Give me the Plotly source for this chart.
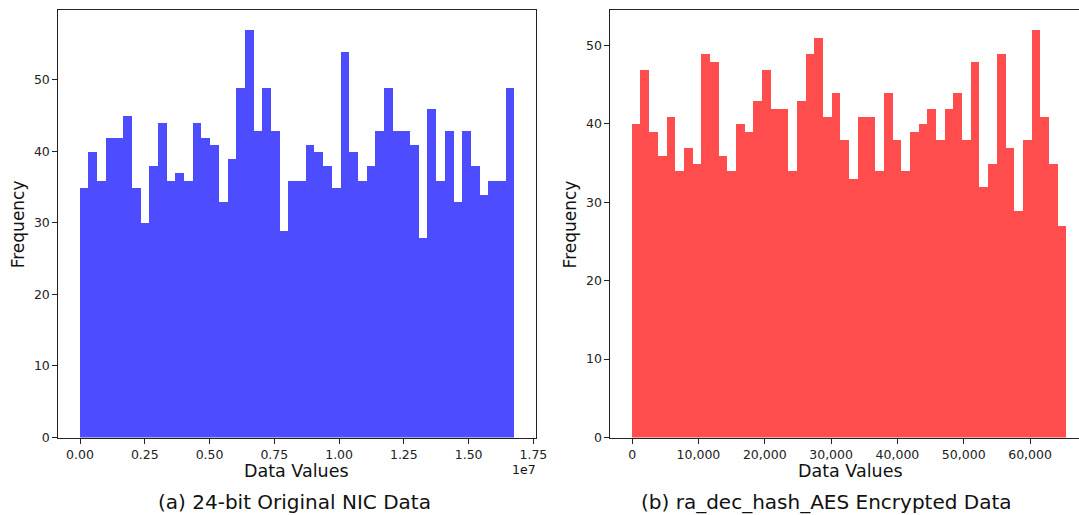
import plotly.graph_objects as go

# ---------------- data ----------------
left_counts = [35, 40, 36, 42, 42, 45, 35, 30, 38, 44,
               36, 37, 36, 44, 42, 41, 33, 39, 49, 57,
               43, 49, 43, 29, 36, 36, 41, 40, 38, 35,
               54, 40, 36, 38, 43, 49, 43, 43, 41, 28,
               46, 36, 43, 33, 43, 38, 34, 36, 36, 49]
right_counts = [40, 47, 39, 36, 41, 34, 37, 35, 49, 48,
                36, 34, 40, 39, 43, 47, 42, 42, 34, 43,
                49, 51, 41, 44, 38, 33, 41, 41, 34, 44,
                38, 34, 39, 40, 42, 38, 42, 44, 38, 48,
                32, 35, 49, 37, 29, 38, 52, 41, 35, 27]
left_min, left_max = 0, 2**24 - 1
right_min, right_max = 0, 2**16 - 1
left_tickvals = [0, 2.5e6, 5e6, 7.5e6, 1e7, 1.25e7, 1.5e7, 1.75e7]
left_ticktext = ["0.00", "0.25", "0.50", "0.75", "1.00", "1.25", "1.50", "1.75"]
right_tickvals = [0, 10000, 20000, 30000, 40000, 50000, 60000]
y_tickvals = [0, 10, 20, 30, 40, 50]
caption_a = "(a) 24-bit Original NIC Data"
caption_b = "(b) ra_dec_hash_AES Encrypted Data"

W, H = 1079, 515
FONT = "DejaVu Sans"


def bins(lo, hi, n):
    w = (hi - lo) / n
    centers = [lo + w * (i + 0.5) for i in range(n)]
    return centers, w


lc, lw = bins(left_min, left_max, len(left_counts))
rc, rw = bins(right_min, right_max, len(right_counts))

fig = go.Figure()
fig.add_trace(go.Bar(x=lc, y=left_counts, width=lw, marker=dict(color="#4D4DFF", line=dict(width=0)),
                     xaxis="x", yaxis="y", showlegend=False))
fig.add_trace(go.Bar(x=rc, y=right_counts, width=rw, marker=dict(color="#FF4D4D", line=dict(width=0)),
                     xaxis="x2", yaxis="y2", showlegend=False))


def px(x):
    return x / W


def py(y):
    return 1 - y / H


top, bottom = 9.5, 437.5
l_left, l_right = 58.3, 536.4
r_left = 610.4

lspan = left_max - left_min
l_lo = left_min - 0.05 * lspan
l_hi = left_max + 0.05 * lspan
rspan = right_max - right_min
r_lo = right_min - 0.05 * rspan
r_full_hi = right_max + 0.05 * rspan
# right axes box is cut by the figure edge: compute visible upper bound
r_axes_width = l_right - l_left
r_hi = r_lo + (r_full_hi - r_lo) * (W - r_left) / r_axes_width

axis_common = dict(showgrid=False, zeroline=False, showline=True, linecolor="#222222", linewidth=1,
                   ticks="outside", ticklen=5, tickwidth=1, tickcolor="#222222", automargin=False,
                   tickfont=dict(family=FONT, size=12.5, color="#222222"))

fig.update_layout(
    width=W, height=H,
    margin=dict(l=0, r=0, t=0, b=0, pad=0),
    paper_bgcolor="white", plot_bgcolor="white",
    bargap=0,
    font=dict(family=FONT, color="black"),
    xaxis=dict(domain=[px(l_left), px(l_right)], range=[l_lo, l_hi], mirror=True,
               tickvals=left_tickvals, ticktext=left_ticktext, anchor="y", **axis_common),
    yaxis=dict(domain=[py(bottom), py(top)], range=[0, max(left_counts) * 1.05], mirror=True,
               tickvals=y_tickvals, anchor="x", **axis_common),
    xaxis2=dict(domain=[px(r_left), 1.0], range=[r_lo, r_hi], mirror=True,
                tickvals=right_tickvals, tickformat=",", anchor="y2", **axis_common),
    yaxis2=dict(domain=[py(bottom), py(top)], range=[0, max(right_counts) * 1.05], mirror=False,
                tickvals=y_tickvals, anchor="x2", **axis_common),
)

ann = []


def add_text(text, x, y, size, angle=0):
    ann.append(dict(text=text, x=px(x), y=py(y), xref="paper", yref="paper", showarrow=False,
                    xanchor="center", yanchor="middle", textangle=angle,
                    font=dict(family=FONT, size=size, color="#111111")))


add_text("Frequency", 18.3, 224, 17, -90)
add_text("Frequency", 570.4, 224, 17, -90)
add_text("Data Values", 296, 471, 17.5)
add_text("Data Values", 850, 471, 17.5)
add_text("1e7", 524, 469, 12.5)
add_text(caption_a, 294, 502, 20)
add_text(caption_b, 826, 502, 20)
fig.update_layout(annotations=ann)

fig.write_html("out.html", config={"displayModeBar": False},
               post_script="document.body.style.margin='0';document.body.style.padding='0';"
                           "document.body.style.overflow='hidden';")
